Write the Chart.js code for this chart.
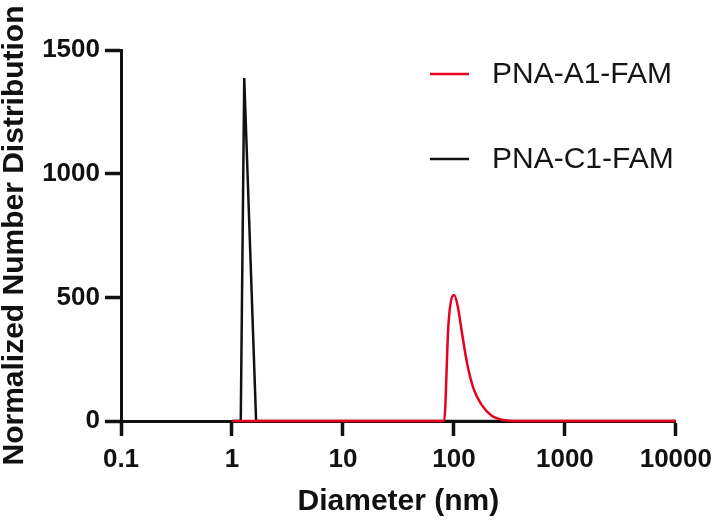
<!DOCTYPE html>
<html><head><meta charset="utf-8">
<script src="https://cdn.jsdelivr.net/npm/chart.js@4/dist/chart.umd.min.js"></script>
<style>html,body{margin:0;padding:0;background:#fff}#wrap{width:720px;height:522px}</style>
</head><body><div id="wrap"><canvas id="c" width="720" height="522"></canvas></div>
<script>
const seriesNames = ['PNA-A1-FAM', 'PNA-C1-FAM'];
const a1Diameter = [1, 81.6, 89.4, 100.4, 107.7, 117.8, 130.6, 150, 178, 219, 279, 368, 10000];
const a1Value    = [0, 0,    395,  509,   469,   361,   240,   132, 65,  21,  4,   0,   0];
const c1Diameter = [1, 1.2, 1.29, 1.65, 10000];
const c1Value    = [0, 0,   1387, 0,    0];
const xTickValues = [0.1, 1, 10, 100, 1000, 10000];
const xTickLabels = ['0.1', '1', '10', '100', '1000', '10000'];
const yTickValues = [0, 500, 1000, 1500];
const yTickLabels = ['0', '500', '1000', '1500'];
const xTitle = 'Diameter (nm)';
const yTitle = 'Normalized Number Distribution';

const FONT = '"Liberation Sans", Arial, Helvetica, sans-serif';
const toXY = (xs, ys) => xs.map((x, i) => ({x: x, y: ys[i]}));

const legendPlugin = {
  id: 'customLegend',
  afterDraw(chart) {
    const ctx = chart.ctx;
    const rows = [75, 160];
    chart.data.datasets.forEach((ds, i) => {
      ctx.save();
      ctx.strokeStyle = ds.borderColor;
      ctx.lineWidth = 2.5;
      ctx.beginPath();
      ctx.moveTo(430, rows[i] - 1);
      ctx.lineTo(469, rows[i] - 1);
      ctx.stroke();
      ctx.fillStyle = '#151515';
      ctx.font = '30px ' + FONT;
      ctx.textBaseline = 'middle';
      ctx.textAlign = 'left';
      ctx.fillText(ds.label, 492, rows[i]);
      ctx.restore();
    });
  }
};

new Chart(document.getElementById('c'), {
  type: 'line',
  data: {
    datasets: [
      {label: seriesNames[0], data: toXY(a1Diameter, a1Value), borderColor: '#e8001f', borderWidth: 2.5, pointRadius: 0, cubicInterpolationMode: 'monotone', fill: false, clip: 6},
      {label: seriesNames[1], data: toXY(c1Diameter, c1Value), borderColor: '#111111', borderWidth: 2.5, pointRadius: 0, tension: 0, fill: false, clip: 6}
    ]
  },
  options: {
    responsive: false,
    animation: false,
    devicePixelRatio: 1,
    layout: {padding: {top: 50, right: 42, left: 0, bottom: 0}},
    plugins: {legend: {display: false}, tooltip: {enabled: false}},
    scales: {
      x: {
        type: 'logarithmic',
        min: 0.1, max: 10000,
        afterBuildTicks(scale) { scale.ticks = xTickValues.map(v => ({value: v})); },
        afterFit(scale) { scale.height = 101; },
        ticks: {
          autoSkip: false, maxRotation: 0, padding: 8, color: '#111',
          font: {family: FONT, size: 26, weight: 'bold'},
          callback: (v) => { const i = xTickValues.indexOf(v); return i >= 0 ? xTickLabels[i] : ''; }
        },
        grid: {display: true, drawOnChartArea: false, drawTicks: true, tickLength: 15, tickWidth: 3.5, tickColor: '#111'},
        border: {display: true, color: '#111', width: 3},
        title: {display: true, text: xTitle, color: '#111', font: {family: FONT, size: 30, weight: 'bold', lineHeight: 1}, padding: {top: 0, bottom: 5}}
      },
      y: {
        type: 'linear',
        min: 0, max: 1500,
        afterBuildTicks(scale) { scale.ticks = yTickValues.map(v => ({value: v})); },
        afterFit(scale) { scale.width = 121; },
        ticks: {
          padding: 5, color: '#111',
          font: {family: FONT, size: 26, weight: 'bold'},
          callback: (v) => { const i = yTickValues.indexOf(v); return i >= 0 ? yTickLabels[i] : ''; }
        },
        grid: {display: true, drawOnChartArea: false, drawTicks: true, tickLength: 16, tickWidth: 3.5, tickColor: '#111'},
        border: {display: true, color: '#111', width: 3},
        title: {display: true, text: yTitle, color: '#111', font: {family: FONT, size: 30, weight: 'bold', lineHeight: 1}, padding: {top: 0, bottom: 0}}
      }
    }
  },
  plugins: [legendPlugin]
});
</script>
</body></html>
